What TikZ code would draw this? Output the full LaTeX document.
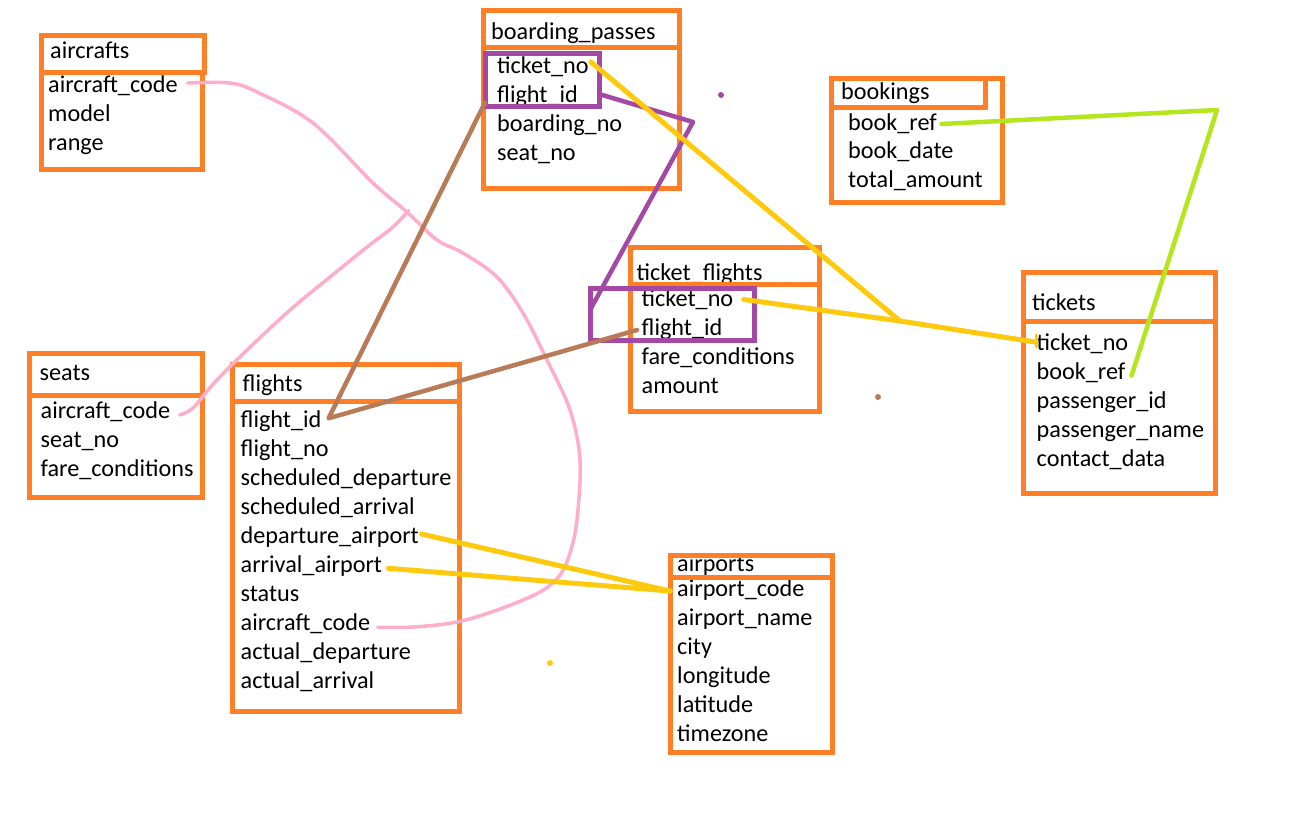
\documentclass[tikz,border=0pt]{standalone}
\usepackage{fontspec}
\setmainfont{Carlito}
\definecolor{orangeP}{HTML}{FF7F27}
\definecolor{purpleP}{HTML}{A349A4}
\definecolor{brownP}{HTML}{B97A57}
\definecolor{goldP}{HTML}{FFC90E}
\definecolor{limeP}{HTML}{B5E61D}
\definecolor{roseP}{HTML}{FFAEC9}
\newcommand\fs{\fontsize{24.2}{29}\selectfont}
\newcommand\tbl[5]{\node[tb, anchor=north west, minimum width={(#4)-(#2)}, minimum height={(#5)-(#3)}] (#1) at (#2,#3) {};}
\newcommand\pkr[5]{\node[pk, anchor=north west, minimum width={(#4)-(#2)}, minimum height={(#5)-(#3)}] (#1) at (#2,#3) {};}
\begin{document}
\begin{tikzpicture}[x=1pt,y=-1pt,
  fld/.style={anchor=base west, inner sep=0pt, font=\fs, text=black},
  tb/.style={draw=orangeP, line width=5pt, inner sep=0pt, outer sep=0pt},
  pk/.style={draw=purpleP, line width=5pt, inner sep=0pt, outer sep=0pt},
  conn/.style={line width=4.5pt, line cap=round, line join=round},
  pinkline/.style={draw=roseP, line width=3.5pt, line cap=round, line join=round},
  dotmark/.style={circle, inner sep=0pt, minimum size=6pt}]
\useasboundingbox (0,0) rectangle (1314,815);
\fill[white] (0,0) rectangle (1314,815);

% ---------- texts ----------
\node[fld] (ac-t) at (50,58.5) {aircrafts};
\foreach \t [count=\i] in {aircraft\_code,model,range}
  \node[fld] (ac-\i) at (48,{92.5+29*(\i-1)}) {\t};

\node[fld] (bp-t) at (491,39.5) {boarding\_passes};
\foreach \t [count=\i] in {ticket\_no,flight\_id,boarding\_no,seat\_no}
  \node[fld] (bp-\i) at (497,{73.5+29*(\i-1)}) {\t};

\node[fld] (bk-t) at (841,99.5) {bookings};
\foreach \t [count=\i] in {book\_ref,book\_date,total\_amount}
  \node[fld] (bk-\i) at (848,{130+28.7*(\i-1)}) {\t};

\node[fld] (tf-t) at (636.5,280) {ticket\_flights};
\foreach \t [count=\i] in {ticket\_no,flight\_id,fare\_conditions,amount}
  \node[fld] (tf-\i) at (641.5,{306.5+29*(\i-1)}) {\t};

\node[fld] (tk-t) at (1032,310) {tickets};
\foreach \t [count=\i] in {ticket\_no,book\_ref,passenger\_id,passenger\_name,contact\_data}
  \node[fld] (tk-\i) at (1036.5,{350.5+29*(\i-1)}) {\t};

\node[fld] (st-t) at (39.5,380) {seats};
\foreach \t [count=\i] in {aircraft\_code,seat\_no,fare\_conditions}
  \node[fld] (st-\i) at (40.5,{418+29*(\i-1)}) {\t};

\node[fld] (fl-t) at (242.5,391.5) {flights};
\foreach \t [count=\i] in {flight\_id,flight\_no,scheduled\_departure,scheduled\_arrival,departure\_airport,arrival\_airport,status,aircraft\_code,actual\_departure,actual\_arrival}
  \node[fld] (fl-\i) at (240.5,{427.3+29*(\i-1)}) {\t};

\node[fld] (ap-t) at (677,571.5) {airports};
\foreach \t [count=\i] in {airport\_code,airport\_name,city,longitude,latitude,timezone}
  \node[fld] (ap-\i) at (677,{596+29*(\i-1)}) {\t};

% ---------- boxes ----------
\tbl{ac-h}{41.5}{35}{204.5}{72.5}
\tbl{ac-b}{41.5}{72.5}{202}{169}
\tbl{bp-h}{483}{10}{679}{47}
\tbl{bp-b}{483}{47}{679}{188}
\tbl{bk-h}{831}{78}{985}{107}
\tbl{bk-b}{831}{78}{1002}{202}
\tbl{tf-h}{630}{247}{819}{284}
\tbl{tf-b}{630}{284}{819}{411}
\tbl{tk-h}{1023}{272}{1215}{321}
\tbl{tk-b}{1023}{321}{1215}{493}
\tbl{st-h}{29}{353}{202}{395}
\tbl{st-b}{29}{395}{202}{497}
\tbl{fl-h}{232}{364}{459}{401}
\tbl{fl-b}{232}{401}{459}{711}
\tbl{ap-h}{670}{555}{832}{577}
\tbl{ap-b}{670}{577}{832}{752}
\pkr{bp-pk}{485}{53}{599}{106}
\pkr{tf-pk}{590}{288}{754}{340}

% ---------- connector end points ----------
\coordinate (pa) at ([xshift=10pt,yshift=9.5pt]ac-1.base east);
\coordinate (pf) at ([xshift=7.5pt,yshift=3pt]fl-8.base east);
\coordinate (ps) at ([xshift=9.5pt,yshift=3pt]st-1.base east);
\coordinate (pj) at (407,212);

\coordinate (b1) at ([xshift=-12pt,yshift=0pt]bp-2.base west);
\coordinate (b2) at ([xshift=7pt,yshift=9pt]fl-1.base east);
\coordinate (b3) at ([xshift=-4.5pt,yshift=5.5pt]tf-2.base west);

\coordinate (u1) at ([yshift=-14.5pt]bp-pk.east);
\coordinate (uk) at (693,122);
\coordinate (u2) at ([yshift=4pt]tf-pk.west);

\coordinate (y1) at ([xshift=2pt,yshift=11.5pt]bp-1.base east);
\coordinate (y2) at ([xshift=10.5pt,yshift=7pt]tf-1.base east);
\coordinate (y3) at ([xshift=-1.5pt,yshift=8.5pt]tk-1.base west);
\coordinate (yj) at (900,321);

\coordinate (d1) at ([xshift=2.5pt,yshift=9.3pt]fl-5.base east);
\coordinate (d2) at ([xshift=6pt,yshift=4pt]fl-6.base east);
\coordinate (d3) at ([xshift=-7pt,yshift=5pt]ap-1.base west);

\coordinate (g1) at ([xshift=4.6pt,yshift=6pt]bk-1.base east);
\coordinate (gk) at (1217,110);
\coordinate (g2) at ([xshift=6pt,yshift=4pt]tk-2.base east);

% ---------- connectors ----------
\draw[pinkline] plot[smooth, tension=0.55] coordinates {(pa) (230,83) (257,92) (313,123) (373,183) (pj) (437,240) (463,253) (497,277) (523,313) (547,360) (570,410) (580,460) (577,520) (570,553) (560,575) (540,592) (500,609) (457,622) (413,627) (pf)};
\draw[pinkline] plot[smooth, tension=0.55] coordinates {(ps) (193,408) (215,382) (247,350) (290,310) (330,277) (367,247) (393,227) (pj)};
\draw[pinkline, line width=2.5pt] (pj) ++(-4,6) -- ++(6,-8);

\draw[conn, brownP] (b1) -- (b2) -- (b3);
\draw[conn, purpleP] (u1) -- (uk) -- (u2);
\draw[conn, goldP, line width=5pt] (y1) -- (yj);
\draw[conn, goldP, line width=5pt] (y2) -- (yj) -- (y3);
\draw[conn, goldP, line width=3pt] (y3) ++(1,-7) -- ++(0,12);
\draw[conn, goldP, line width=5pt] (d1) -- (d3);
\draw[conn, goldP, line width=5pt] (d2) -- (d3);
\draw[conn, limeP] (g1) -- (gk) -- (g2);

% ---------- stray dots ----------
\node[dotmark, fill=purpleP] (dotp) at (721,95) {};
\node[dotmark, fill=brownP] (dotb) at (878,397) {};
\node[dotmark, fill=goldP] (doty) at (550,663) {};
\end{tikzpicture}
\end{document}
